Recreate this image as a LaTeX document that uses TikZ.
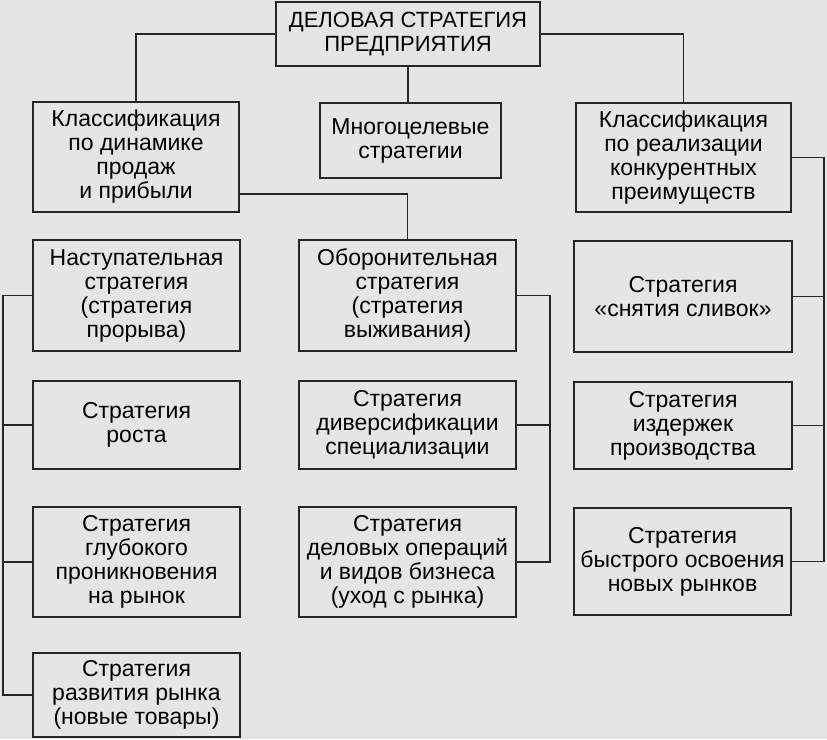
\documentclass[tikz,border=0pt]{standalone}
\usepackage{fontspec}
\newfontfamily\boxfont{Liberation Sans}
\usepackage{tikz}
\usetikzlibrary{calc}

\begin{document}
\begin{tikzpicture}[x=1pt,y=-1pt,
  box/.style={draw=black!85,line width=1.5pt,rectangle,align=center,inner sep=0pt,
    font=\boxfont\fontsize{23}{24}\selectfont},
  link/.style={draw=black!85,line width=1.5pt}]
  \fill[black!10] (0,0) rectangle (827,739);
  \useasboundingbox (0,0) rectangle (827,739);
  \node[box,minimum width=264pt,minimum height=64pt,font=\boxfont\fontsize{22}{24}\selectfont] (top) at (408,34) {ДЕЛОВАЯ СТРАТЕГИЯ\\ПРЕДПРИЯТИЯ};
  \node[box,minimum width=206pt,minimum height=110pt] (l1) at (136,157) {Классификация\\по динамике\\продаж\\и прибыли};
  \node[box,minimum width=181pt,minimum height=75pt] (m1) at (410.5,140.5) {Многоцелевые\\стратегии};
  \node[box,minimum width=215pt,minimum height=109pt] (r1) at (683.5,157.5) {Классификация\\по реализации\\конкурентных\\преимуществ};
  \node[box,minimum width=207pt,minimum height=111pt] (l2) at (136.5,295.5) {Наступательная\\стратегия\\(стратегия\\прорыва)};
  \node[box,minimum width=217pt,minimum height=111pt] (m2) at (407.5,295.5) {Оборонительная\\стратегия\\(стратегия\\выживания)};
  \node[box,minimum width=218pt,minimum height=111pt] (r2) at (683,296.5) {Стратегия\\«снятия сливок»};
  \node[box,minimum width=207pt,minimum height=88pt] (l3) at (136.5,425) {Стратегия\\роста};
  \node[box,minimum width=217pt,minimum height=88pt] (m3) at (407.5,425) {Стратегия\\диверсификации\\специализации};
  \node[box,minimum width=218pt,minimum height=87pt] (r3) at (683,425.5) {Стратегия\\издержек\\производства};
  \node[box,minimum width=207pt,minimum height=110pt] (l4) at (136.5,562) {Стратегия\\глубокого\\проникновения\\на рынок};
  \node[box,minimum width=217pt,minimum height=110pt] (m4) at (407.5,562) {Стратегия\\деловых операций\\и видов бизнеса\\(уход с рынка)};
  \node[box,minimum width=217pt,minimum height=107pt] (r4) at (682.5,561.5) {Стратегия\\быстрого освоения\\новых рынков};
  \node[box,minimum width=207pt,minimum height=84pt] (l5) at (136.5,695) {Стратегия\\развития рынка\\(новые товары)};
  \coordinate (lb) at (3,0);
  \coordinate (mb) at (550,0);
  \coordinate (rb) at (824,0);
  \draw[link] (top.west) -| (l1.north);
  \draw[link] (top.east) -| (r1.north);
  \draw[link] (top.south) -- (top.south |- m1.north);
  \draw[link] ([yshift=19pt]l1.south east) -| (m2.north);
  \draw[link] (l2.west) -| (lb |- l5.west) -- (l5.west);
  \draw[link] (l3.west) -- (lb |- l3.west);
  \draw[link] (l4.west) -- (lb |- l4.west);
  \draw[link] (m2.east) -| (mb |- m4.east) -- (m4.east);
  \draw[link] (m3.east) -- (mb |- m3.east);
  \draw[link] (r1.east) -| (rb |- r4.east) -- (r4.east);
  \draw[link] (r2.east) -- (rb |- r2.east);
  \draw[link] (r3.east) -- (rb |- r3.east);
\end{tikzpicture}
\end{document}
